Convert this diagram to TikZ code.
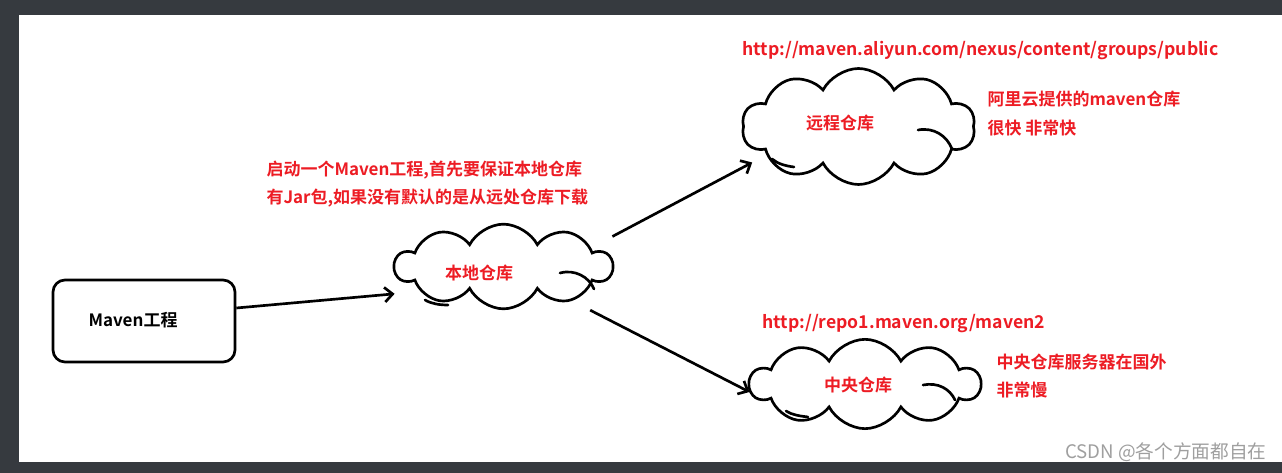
\documentclass[tikz,border=0pt]{standalone}
\usepackage{fontspec}
\newfontfamily\cjk{Noto Sans CJK SC}[BoldFont={Noto Sans CJK SC Bold}]
\usepackage{tikz}
\usetikzlibrary{shapes.symbols,arrows.meta}
\definecolor{paintred}{RGB}{237,28,36}
\definecolor{darkframe}{RGB}{54,58,63}
\tikzset{every picture/.style={line width=0.75pt}}
\tikzset{
  repocloud/.style={cloud, draw, line width=2pt, cloud puffs=10, cloud puff arc=125,
    cloud ignores aspect, inner sep=0pt},
  redtext/.style={text=paintred, font=\cjk\bfseries\fontsize{12.75}{21.5}\selectfont,
    inner sep=0pt, align=left},
  urltext/.style={redtext, font=\cjk\bfseries\fontsize{13.2}{15}\selectfont},
  pointer/.style={line width=2pt, -{Straight Barb[length=6pt,width=11pt]}},
  curl/.style={line width=2pt, line cap=round}
}

\begin{document}
\begin{tikzpicture}[x=0.75pt,y=0.75pt,yscale=-1,xscale=1]
\useasboundingbox (0,0) rectangle (1282,473);

%Frame
\fill[darkframe] (0,0) rectangle (1282,473);
\fill[white] (19,15) rectangle (1282,462);

%Project box
\node[draw, line width=2pt, rounded corners=9pt, minimum width=136.5pt, minimum height=61.5pt]
  (project) at (144,321) {};
%Clouds
\node[repocloud, minimum width=162.75pt, minimum height=63.5pt] (local) at (503.5,266.5) {};
\node[repocloud, minimum width=174.75pt, minimum height=87pt] (remote) at (858.5,126.5) {};
\node[repocloud, minimum width=172.5pt, minimum height=67pt] (central) at (865,384) {};

%Cloud curls
\draw[curl] (560,273) .. controls (575,269) and (589,277) .. (594,289);
\draw[curl] (425,300) .. controls (432,304) and (440,305) .. (448,305);
\draw[curl] (918,130) .. controls (934,127) and (947,136) .. (952,149);
\draw[curl] (772,159) .. controls (778,164) and (786,166) .. (794,167);
\draw[curl] (923,385) .. controls (938,382) and (950,389) .. (955,400);
\draw[curl] (786,411) .. controls (792,415) and (800,416) .. (808,417);

% Text Node
\node[font=\cjk\bfseries\fontsize{12.75}{15}\selectfont, inner sep=0pt] (projectlabel) at (133,320) {Maven工程};
% Text Node
\node[redtext] (locallabel) at (479,273) {本地仓库};
% Text Node
\node[redtext] (remotelabel) at (840,123) {远程仓库};
% Text Node
\node[redtext] (centrallabel) at (858,385) {中央仓库};
% Text Node
\node[redtext, anchor=west] (startnote) at (266,184) {启动一个Maven工程,首先要保证本地仓库\\有Jar包,如果没有默认的是从远处仓库下载};
% Text Node
\node[urltext, anchor=west] (aliurl) at (742,51) {http://maven.aliyun.com/nexus/content/groups/public};
% Text Node
\node[redtext, anchor=west] (alinote) at (987,113.5) {阿里云提供的maven仓库\\很快 非常快};
% Text Node
\node[urltext, anchor=west] (centralurl) at (762,324) {http://repo1.maven.org/maven2};
% Text Node
\node[redtext, anchor=west] (centralnote) at (996,376) {中央仓库服务器在国外\\非常慢};
% Text Node
\node[font=\cjk\fontsize{14}{16}\selectfont, text=gray!75, inner sep=0pt, anchor=east] (mark) at (1267,452) {CSDN @各个方面都自在};

%Arrows
\draw[pointer] ([yshift=-9.75pt]project.east) -- ([xshift=1.5pt,yshift=20.5pt]local.west);
\draw[pointer] ([xshift=-1.5pt,yshift=-22.5pt]local.east) -- ([xshift=7.5pt,yshift=27pt]remote.west);
\draw[pointer] ([xshift=65pt]local.south) -- ([xshift=1.5pt,yshift=6pt]central.west);
\end{tikzpicture}
\end{document}
